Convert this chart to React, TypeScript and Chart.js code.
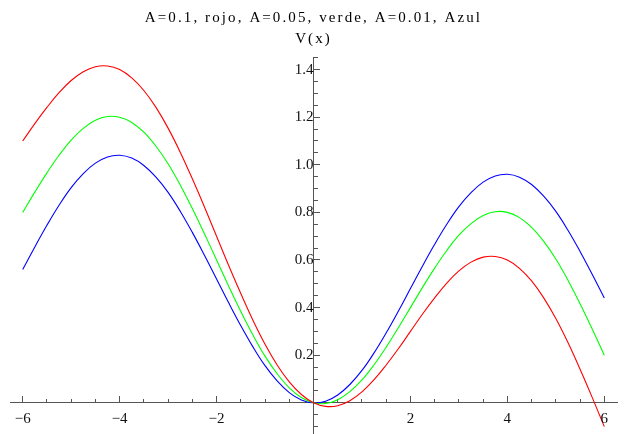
import React, { useEffect, useRef } from 'react';
import { Chart, registerables } from 'chart.js';

Chart.register(...registerables);

const TITLE = 'A=0.1, rojo, A=0.05, verde, A=0.01, Azul';
const Y_TITLE = 'V(x)';

const xValues = [
  -6, -5.75, -5.5, -5.25, -5, -4.75, -4.5, -4.25, -4, -3.75, -3.5, -3.25, -3, -2.75, -2.5, -2.25,
  -2, -1.75, -1.5, -1.25, -1, -0.75, -0.5, -0.25, 0, 0.25, 0.5, 0.75, 1, 1.25, 1.5, 1.75, 2, 2.25,
  2.5, 2.75, 3, 3.25, 3.5, 3.75, 4, 4.25, 4.5, 4.75, 5, 5.25, 5.5, 5.75, 6,
];

// A = 0.1 (rojo)
const redValues = [
  1.1, 1.173, 1.241, 1.303, 1.354, 1.391, 1.412, 1.415, 1.4, 1.365, 1.312, 1.241, 1.154, 1.053, 0.941,
  0.823, 0.7, 0.577, 0.459, 0.347, 0.246, 0.159, 0.088, 0.035, 0, -0.015, -0.012, 0.009, 0.046, 0.097,
  0.159, 0.227, 0.3, 0.373, 0.441, 0.503, 0.554, 0.591, 0.612, 0.615, 0.6, 0.565, 0.512, 0.441, 0.354,
  0.253, 0.141, 0.023, -0.1,
];

// A = 0.05 (verde)
const greenValues = [
  0.8, 0.885, 0.966, 1.04, 1.104, 1.153, 1.187, 1.203, 1.2, 1.178, 1.137, 1.078, 1.004, 0.915, 0.816,
  0.71, 0.6, 0.49, 0.384, 0.285, 0.196, 0.122, 0.063, 0.022, 0, -0.003, 0.013, 0.047, 0.096, 0.16,
  0.234, 0.315, 0.4, 0.485, 0.566, 0.64, 0.704, 0.753, 0.787, 0.803, 0.8, 0.778, 0.737, 0.678, 0.604,
  0.515, 0.416, 0.31, 0.2,
];

// A = 0.01 (azul)
const blueValues = [
  0.56, 0.655, 0.746, 0.83, 0.904, 0.963, 1.007, 1.033, 1.04, 1.028, 0.997, 0.948, 0.884, 0.805, 0.716,
  0.62, 0.52, 0.42, 0.324, 0.235, 0.156, 0.092, 0.043, 0.012, 0, 0.007, 0.033, 0.077, 0.136, 0.21,
  0.294, 0.385, 0.48, 0.575, 0.666, 0.75, 0.824, 0.883, 0.927, 0.953, 0.96, 0.948, 0.917, 0.868, 0.804,
  0.725, 0.636, 0.54, 0.44,
];

const xTickValues = [-6, -4, -2, 2, 4, 6];
const yTickValues = [0.2, 0.4, 0.6, 0.8, 1.0, 1.2, 1.4];

const X_MIN = -6.262;
const X_MAX = 6.262;
const Y_MIN = -0.131;
const Y_MAX = 1.4528;

const SERIF = "'Liberation Serif', 'Times New Roman', Times, serif";
const AXIS_COLOR = '#555555';
const TEXT_COLOR = '#111111';

const spacingPlugin = {
  id: 'titleSpacing',
  beforeDraw(chart: any) {
    chart.ctx.letterSpacing = '2.1px';
  },
  beforeDatasetsDraw(chart: any) {
    chart.ctx.letterSpacing = '0px';
  },
  afterDraw(chart: any) {
    chart.ctx.letterSpacing = '0px';
  },
};

function pts(ys: number[]) {
  return xValues.map((x, i) => ({ x, y: ys[i] }));
}

function fmtX(v: number) {
  const r = Math.round(v * 1000) / 1000;
  if (!xTickValues.includes(r)) return '';
  return r < 0 ? '\u2212' + Math.abs(r) : String(r);
}

function fmtY(v: number) {
  const r = Math.round(v * 1000) / 1000;
  if (!yTickValues.some((t) => Math.abs(t - r) < 1e-6)) return '';
  return r.toFixed(1);
}

function noPadX(s: any) {
  s.height = 0;
  s.paddingLeft = 0;
  s.paddingRight = 0;
  s.paddingTop = 0;
  s.paddingBottom = 0;
}

function noPadY(s: any) {
  s.width = 0;
  s.paddingLeft = 0;
  s.paddingRight = 0;
  s.paddingTop = 0;
  s.paddingBottom = 0;
}

export default function App() {
  const ref = useRef<HTMLCanvasElement | null>(null);

  useEffect(() => {
    if (!ref.current) return;
    const tickFont = { family: SERIF, size: 15, weight: 'normal' as const, lineHeight: 1.2 };
    const chart = new Chart(ref.current, {
      type: 'line',
      data: {
        datasets: [
          { data: pts(redValues), borderColor: '#ff0000', borderWidth: 1.1, pointRadius: 0, tension: 0.4, fill: false },
          { data: pts(greenValues), borderColor: '#00ff00', borderWidth: 1.1, pointRadius: 0, tension: 0.4, fill: false },
          { data: pts(blueValues), borderColor: '#0000ff', borderWidth: 1.1, pointRadius: 0, tension: 0.4, fill: false },
        ],
      },
      options: {
        responsive: false,
        animation: false,
        layout: { padding: { left: 10, right: 14, top: 0, bottom: 0 } },
        plugins: {
          legend: { display: false },
          tooltip: { enabled: false },
          title: {
            display: true,
            text: TITLE,
            color: '#000',
            font: { family: SERIF, size: 15, weight: 'normal', lineHeight: 1.2 },
            padding: { top: 9, bottom: 3 },
          },
          subtitle: {
            display: true,
            text: Y_TITLE,
            color: '#000',
            font: { family: SERIF, size: 15, weight: 'normal', lineHeight: 1.2 },
            padding: { top: 0, bottom: 9 },
          },
        },
        scales: {
          x: {
            type: 'linear',
            position: { y: 0 } as any,
            min: X_MIN,
            max: X_MAX,
            afterFit: noPadX,
            ticks: {
              stepSize: 2,
              includeBounds: false,
              autoSkip: false,
              maxRotation: 0,
              padding: 14,
              z: 1,
              color: TEXT_COLOR,
              font: tickFont,
              callback: (v: any) => fmtX(Number(v)),
            },
            grid: { drawOnChartArea: false, drawTicks: true, tickLength: -7, color: AXIS_COLOR },
            border: { display: true, color: AXIS_COLOR, width: 1 },
          },
          x2: {
            type: 'linear',
            axis: 'x',
            position: { y: 0 } as any,
            min: X_MIN,
            max: X_MAX,
            afterFit: noPadX,
            ticks: { stepSize: 0.5, includeBounds: false, autoSkip: false, display: false },
            grid: { drawOnChartArea: false, drawTicks: true, tickLength: -4, color: AXIS_COLOR },
            border: { display: false },
          },
          y: {
            type: 'linear',
            position: { x: 0 } as any,
            min: Y_MIN,
            max: Y_MAX,
            afterFit: noPadY,
            ticks: {
              stepSize: 0.2,
              includeBounds: false,
              autoSkip: false,
              padding: 9.5,
              z: 1,
              color: TEXT_COLOR,
              font: tickFont,
              callback: (v: any) => fmtY(Number(v)),
            },
            grid: { drawOnChartArea: false, drawTicks: true, tickLength: -7, color: AXIS_COLOR },
            border: { display: true, color: AXIS_COLOR, width: 1 },
          },
          y2: {
            type: 'linear',
            axis: 'y',
            position: { x: 0 } as any,
            min: Y_MIN,
            max: Y_MAX,
            afterFit: noPadY,
            ticks: { stepSize: 0.05, includeBounds: false, autoSkip: false, display: false },
            grid: { drawOnChartArea: false, drawTicks: true, tickLength: -4, color: AXIS_COLOR },
            border: { display: false },
          },
        } as any,
      },
      plugins: [spacingPlugin],
    });
    return () => chart.destroy();
  }, []);

  return (
    <div style={{ position: 'fixed', left: 0, top: 0, width: 631, height: 434, background: '#fff' }}>
      <canvas ref={ref} width={631} height={434} style={{ display: 'block', width: 631, height: 434 }} />
    </div>
  );
}
